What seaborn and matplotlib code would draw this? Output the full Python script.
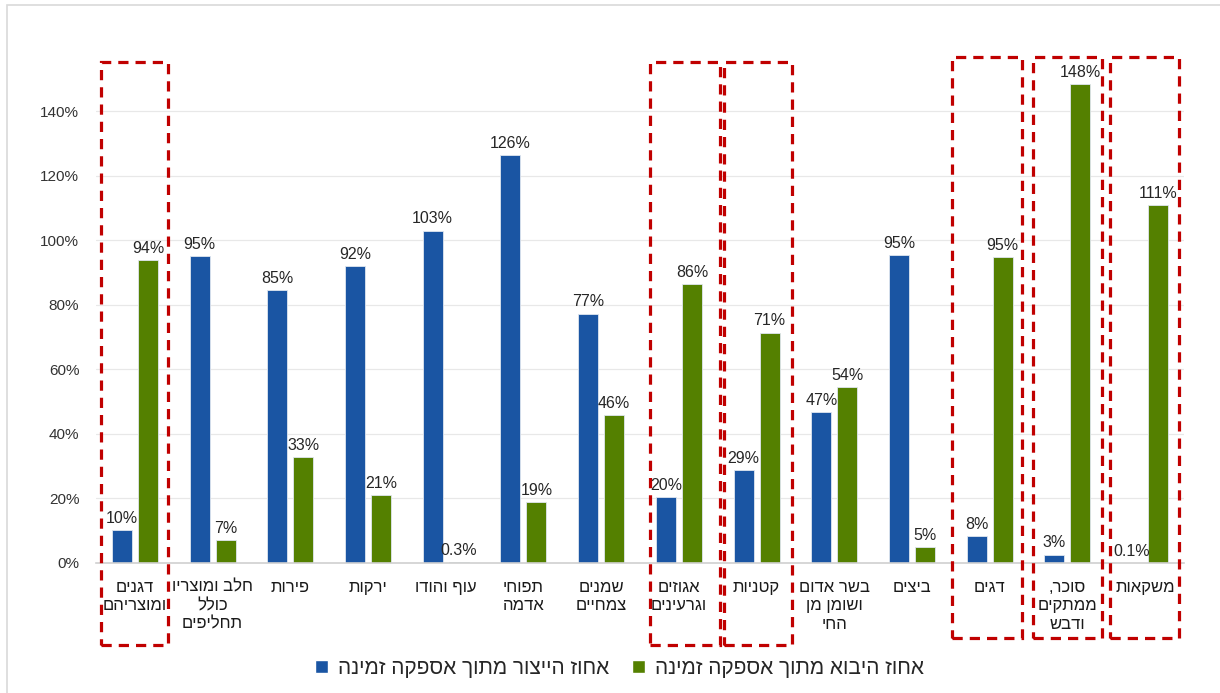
import pandas as pd
import numpy as np
import matplotlib
matplotlib.use("Agg")
import matplotlib.pyplot as plt
import matplotlib.transforms as mtransforms
from matplotlib.patches import Rectangle, Patch
import seaborn as sns

categories = [
    "דגנים\nומוצריהם",
    "חלב ומוצריו\nכולל\nתחליפים",
    "פירות",
    "ירקות",
    "עוף והודו",
    "תפוחי\nאדמה",
    "שמנים\nצמחיים",
    "אגוזים\nוגרעינים",
    "קטניות",
    "בשר אדום\nושומן מן\nהחי",
    "ביצים",
    "דגים",
    "סוכר,\nממתקים\nודבש",
    "משקאות",
]
production_pct = [10.3, 95.0, 84.6, 92.0, 103.0, 126.4, 77.3, 20.4, 28.8, 46.8, 95.3, 8.4, 2.6, 0.1]
import_pct = [93.8, 7.2, 32.8, 21.0, 0.3, 19.0, 45.8, 86.4, 71.4, 54.4, 5.0, 94.7, 148.4, 110.9]
series_names = ["אחוז הייצור מתוך אספקה זמינה", "אחוז היבוא מתוך אספקה זמינה"]
highlighted = [0, 7, 8, 11, 12, 13]

BLUE = "#1A55A3"
GREEN = "#548000"
RED = "#C00000"


def heb(text):
    # matplotlib has no bidi support, so flip each Hebrew line by hand
    return "\n".join(l[::-1] for l in text.split("\n"))


def pct_label(v):
    return f"{v:.1f}%" if v < 1 else f"{v:.0f}%"


sns.set_style("white")
plt.rcParams["font.family"] = ["Liberation Sans", "DejaVu Sans"]

n = len(categories)
df = pd.DataFrame({
    "category": [heb(c) for c in categories] * 2,
    "value": production_pct + import_pct,
    "series": [heb(series_names[0])] * n + [heb(series_names[1])] * n,
})

fig = plt.figure(figsize=(12.2, 6.93), dpi=100)
ax = fig.add_axes([0.0787, 0.1876, 0.8918, 0.6984])

sns.barplot(data=df, x="category", y="value", hue="series",
            palette=[BLUE, GREEN], saturation=1, width=0.67, gap=0.23,
            edgecolor="#dfe6f0", linewidth=0.6, ax=ax)
ax.get_legend().remove()

for cont, vals in zip(ax.containers, [production_pct, import_pct]):
    ax.bar_label(cont, labels=[pct_label(v) for v in vals], padding=3,
                 fontsize=11.5, color="#262626")

ax.set_ylim(0, 150)
ax.set_xlim(-0.5, n - 0.5)
ax.set_yticks(np.arange(0, 141, 20))
ax.set_yticklabels([f"{t}%" for t in range(0, 141, 20)], fontsize=11, color="#333333")
ax.tick_params(axis="x", labelsize=12, colors="#1a1a1a", pad=12, length=0)
ax.tick_params(axis="y", length=0, pad=12)
for lbl in ax.get_xticklabels():
    lbl.set_linespacing(1.3)
ax.set_xlabel("")
ax.set_ylabel("")
ax.yaxis.grid(True, color="#e8e8e8", linewidth=0.9)
ax.set_axisbelow(True)
for side in ["top", "right", "left"]:
    ax.spines[side].set_visible(False)
ax.spines["bottom"].set_color("#d0d0d0")
ax.spines["bottom"].set_linewidth(1.2)

# dashed highlight boxes around selected groups
trans = mtransforms.blended_transform_factory(ax.transData, fig.transFigure)
box_x = {0: (-0.44, 0.42), 7: (-0.37, 0.53), 8: (-0.42, 0.46),
         11: (-0.49, 0.41), 12: (-0.44, 0.45), 13: (-0.45, 0.44)}
for i in highlighted:
    lo, hi = box_x[i]
    y0, y1 = (0.069, 0.9105) if i < 10 else (0.079, 0.918)
    rect = Rectangle((i + lo, y0), hi - lo, y1 - y0, transform=trans,
                     fill=False, edgecolor=RED, linewidth=2.3,
                     linestyle=(0, (3.2, 2.2)), clip_on=False, zorder=5)
    fig.add_artist(rect)

# legend
handles = [Patch(facecolor=BLUE, label=heb(series_names[0])),
           Patch(facecolor=GREEN, label=heb(series_names[1]))]
fig.legend(handles=handles, loc="center", bbox_to_anchor=(0.508, 0.036), ncol=2,
           frameon=False, fontsize=15, handlelength=0.6, handleheight=0.6,
           handletextpad=0.5, columnspacing=1.1)

# chart frame
fig.add_artist(Rectangle((7 / 1220, -0.05), 1.1, 1 - 5 / 693 + 0.05,
                         transform=fig.transFigure, fill=False,
                         edgecolor="#d9d9d9", linewidth=1.2))

fig.savefig("out.png", dpi=100)
